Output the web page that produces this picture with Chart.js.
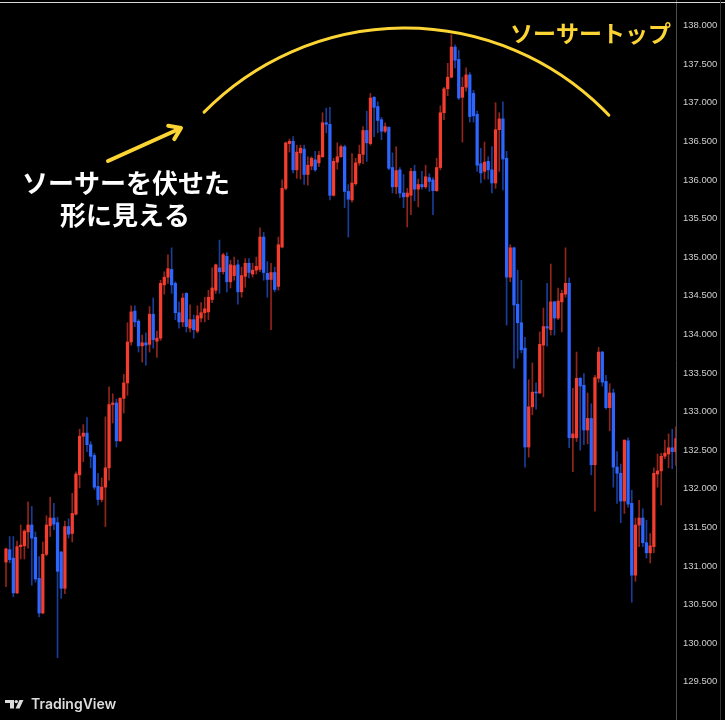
<!DOCTYPE html>
<html><head><meta charset="utf-8">
<script src="https://cdn.jsdelivr.net/npm/chart.js@4/dist/chart.umd.min.js"></script>
<style>html,body{margin:0;padding:0;background:#000;}canvas{display:block;}</style>
</head><body>
<canvas id="c" width="725" height="720"></canvas>
<script>
// ---- data ----
const opens = [131.05,131.21,131.10,130.65,131.25,131.26,131.44,131.53,131.37,130.84,130.39,131.15,131.52,131.62,131.56,131.18,130.71,131.51,131.42,131.67,132.18,132.68,132.72,132.57,132.43,132.03,131.86,132.02,132.27,133.09,133.11,132.62,133.17,133.37,133.90,134.30,134.17,133.85,133.89,133.87,134.26,133.91,133.95,134.64,134.74,134.84,134.66,134.28,134.16,134.53,134.08,134.19,134.04,134.21,134.28,134.29,134.45,134.57,134.86,134.81,135.01,134.68,134.76,134.90,134.55,134.75,134.92,134.78,134.83,134.84,135.26,134.79,134.71,134.80,134.62,135.13,135.89,136.47,136.50,136.13,136.35,136.40,136.07,136.18,136.26,136.22,136.30,136.74,136.72,135.80,136.23,136.30,136.43,135.85,135.74,135.95,136.22,136.33,136.64,136.47,137.07,136.95,136.78,136.63,136.68,136.16,135.91,136.13,135.83,135.78,135.80,136.11,135.88,135.94,135.91,136.03,136.00,135.86,136.16,136.87,137.18,137.33,137.72,137.56,137.07,137.20,137.36,137.12,136.85,136.21,136.11,136.24,136.13,135.96,136.65,136.79,136.28,134.74,135.12,134.39,134.15,133.82,132.54,133.06,133.25,133.24,133.86,134.10,134.06,134.42,134.21,134.42,134.52,134.66,132.66,132.66,133.43,133.34,132.76,132.91,132.31,133.43,133.77,133.39,133.05,133.24,132.28,132.20,131.84,132.62,131.81,130.88,131.53,131.62,131.30,131.17,131.25,132.19,132.23,132.42,132.45,132.53,132.48];
const highs = [131.23,131.38,131.38,131.32,131.53,131.47,131.83,131.77,131.44,131.12,131.31,131.65,131.89,131.81,131.63,131.19,131.58,131.61,131.94,132.22,132.77,132.83,132.92,132.61,132.46,132.20,132.14,132.93,133.32,133.23,133.16,133.18,133.48,134.15,134.37,134.37,134.19,133.99,134.02,134.36,134.47,134.04,134.70,134.81,135.03,135.12,134.68,134.42,134.53,134.54,134.38,134.25,134.37,134.41,134.48,134.57,134.86,134.91,135.22,135.05,135.06,134.96,135.00,134.96,134.87,134.98,134.98,134.92,135.00,135.38,135.32,134.94,134.92,134.87,135.26,136.00,136.49,136.53,136.56,136.45,136.45,136.45,136.30,136.30,136.37,136.37,136.87,136.93,136.94,136.28,136.48,136.45,136.45,135.94,136.34,136.28,136.45,136.69,136.89,137.12,137.08,137.01,136.81,136.74,136.69,136.35,136.43,136.16,136.07,135.89,136.15,136.19,136.01,136.11,136.19,136.08,136.03,136.28,136.96,137.20,137.51,137.88,137.75,137.68,137.33,137.45,137.39,137.16,136.89,136.41,136.49,136.30,136.43,137.00,136.87,137.01,136.37,135.16,135.13,134.83,134.70,133.96,133.41,133.63,133.37,134.03,134.34,134.66,134.91,134.43,134.60,134.57,135.12,134.73,133.30,133.77,133.44,133.49,133.24,133.10,133.47,133.83,133.78,133.47,133.36,133.29,132.48,132.32,132.63,132.66,131.98,131.62,131.85,131.74,131.59,131.42,132.27,132.45,132.46,132.63,132.71,132.77,132.80];
const lows = [130.73,131.04,130.60,130.64,131.09,131.09,131.23,130.75,130.79,130.34,130.38,131.13,131.38,131.47,129.81,130.58,130.64,131.36,131.31,131.66,132.01,132.35,132.48,132.27,131.99,131.79,131.83,131.51,132.11,132.85,132.54,132.61,132.98,133.21,133.86,134.10,133.77,133.64,133.60,133.77,133.82,133.70,133.92,134.52,134.66,134.53,134.19,134.08,134.10,134.03,134.03,133.95,134.02,134.16,134.16,134.19,134.41,134.53,134.53,134.78,134.55,134.60,134.70,134.39,134.48,134.61,134.73,134.74,134.78,134.81,134.70,134.48,134.06,134.55,134.57,135.12,135.87,136.36,136.09,136.02,136.01,135.94,135.93,136.13,136.11,136.17,136.29,136.61,135.74,135.79,136.14,136.29,135.64,135.26,135.71,135.93,136.19,136.21,136.24,136.45,136.56,136.61,136.52,136.61,136.13,135.83,135.82,135.77,135.64,135.39,135.55,135.73,135.65,135.88,135.89,135.85,135.55,135.85,136.13,136.78,137.09,137.32,137.45,137.04,136.49,137.15,136.75,136.75,136.11,135.96,136.01,136.01,135.83,135.89,136.11,135.87,134.12,134.68,133.56,133.69,133.76,132.28,132.41,132.96,133.03,133.23,133.19,133.85,133.99,133.99,134.19,134.03,134.48,132.53,132.22,132.61,132.50,132.57,132.58,132.18,131.71,133.38,133.33,133.03,132.75,132.02,131.81,131.56,131.68,131.76,130.53,130.80,131.25,131.25,131.10,131.04,131.17,132.02,131.79,132.39,132.27,132.26,132.30];
const closes = [131.22,131.08,130.65,131.25,131.27,131.45,131.53,131.36,130.83,130.39,131.15,131.53,131.62,131.54,130.93,130.71,131.51,131.41,131.68,132.19,132.68,132.72,132.57,132.42,132.02,131.86,132.02,132.27,133.09,133.11,132.62,133.17,133.37,133.90,134.29,134.16,133.85,133.89,133.86,134.26,133.93,133.95,134.66,134.74,134.85,134.64,134.28,134.16,134.47,134.10,134.19,134.06,134.24,134.28,134.33,134.48,134.60,134.90,134.81,135.03,134.68,134.90,134.89,134.55,134.76,134.92,134.80,134.83,134.88,135.26,134.80,134.71,134.80,134.58,135.16,135.89,136.48,136.50,136.13,136.36,136.41,136.07,136.19,136.28,136.13,136.32,136.74,136.72,135.80,136.24,136.30,136.43,135.85,135.75,135.96,136.22,136.33,136.64,136.48,137.06,136.94,136.77,136.63,136.69,136.15,135.91,136.12,135.83,135.78,135.83,136.11,135.88,135.94,135.91,136.04,135.98,135.86,136.16,136.87,137.18,137.33,137.72,137.55,137.06,137.20,137.36,136.82,136.83,136.19,136.09,136.23,136.13,135.96,136.65,136.79,136.27,134.74,135.12,134.38,134.15,133.80,132.54,133.06,133.25,133.24,133.87,134.10,134.08,134.42,134.21,134.43,134.53,134.66,132.66,132.71,133.43,133.33,132.76,132.91,132.31,133.44,133.77,133.38,133.05,133.24,132.28,132.20,131.84,132.63,131.80,130.88,131.53,131.62,131.30,131.17,131.26,132.20,132.23,132.42,132.46,132.53,132.48,132.65];
const yTickValues = [129.5,130.0,130.5,131.0,131.5,132.0,132.5,133.0,133.5,134.0,134.5,135.0,135.5,136.0,136.5,137.0,137.5,138.0];
const yTickLabels = ['129.500','130.000','130.500','131.000','131.500','132.000','132.500','133.000','133.500','134.000','134.500','135.000','135.500','136.000','136.500','137.000','137.500','138.000'];

// ---- styling ----
const UP = '#f23d2f', DOWN = '#2c66ff';
const UP_W = 'rgba(242,61,47,0.6)', DOWN_W = 'rgba(44,102,255,0.6)';
const YEL = '#fcd535';

const idx = opens.map((_, i) => i);
const isUp = idx.map(i => closes[i] >= opens[i]);

const overlay = {
  id: 'overlay',
  beforeDraw(chart) {
    const c = chart.ctx;
    c.save();
    c.fillStyle = '#000';
    c.fillRect(0, 0, chart.width, chart.height);
    c.restore();
  },
  afterDraw(chart) {
    const c = chart.ctx;
    c.save();
    // top thin line
    c.fillStyle = '#d8d8d8';
    c.fillRect(0, 2, chart.width, 1);
    // right edge line
    c.fillStyle = '#333';
    c.fillRect(720, 0, 1, chart.height);
    // saucer arc
    c.strokeStyle = YEL; c.lineWidth = 3; c.lineCap = 'round';
    c.beginPath();
    const cx = 405, cy = 310, r = 282;
    c.arc(cx, cy, r, Math.atan2(112 - cy, 204 - cx), Math.atan2(116 - cy, 608 - cx));
    c.stroke();
    // arrow
    c.lineWidth = 4;
    const tx = 181, ty = 128, sx = 108, sy = 161;
    c.beginPath(); c.moveTo(sx, sy); c.lineTo(tx - 2, ty + 1); c.stroke();
    const ang = Math.atan2(ty - sy, tx - sx), hl = 13;
    c.beginPath();
    c.moveTo(tx - hl * Math.cos(ang - 0.6), ty - hl * Math.sin(ang - 0.6));
    c.lineTo(tx, ty);
    c.lineTo(tx - hl * Math.cos(ang + 0.6), ty - hl * Math.sin(ang + 0.6));
    c.lineJoin = 'round';
    c.stroke();
    // texts
    c.textBaseline = 'middle';
    c.fillStyle = '#ffffff';
    c.font = '700 26px "Noto Sans CJK JP", sans-serif';
    c.textAlign = 'center';
    c.fillText('ソーサーを伏せた', 126, 183);
    c.fillText('形に見える', 125, 215);
    c.fillStyle = YEL;
    c.font = '700 23px "Noto Sans CJK JP", sans-serif';
    c.textAlign = 'right';
    c.fillText('ソーサートップ', 671, 33);
    // TradingView logo
    c.fillStyle = '#dcdcdc';
    c.fillRect(5, 700, 9, 3);
    c.fillRect(10, 700, 4, 8.5);
    c.beginPath(); c.arc(16.3, 701.6, 1.7, 0, Math.PI * 2); c.fill();
    c.beginPath();
    c.moveTo(19.5, 700); c.lineTo(23.5, 700); c.lineTo(19.5, 708.5); c.lineTo(15.5, 708.5); c.closePath(); c.fill();
    c.font = '600 14px Inter, sans-serif';
    c.textAlign = 'left'; c.textBaseline = 'alphabetic';
    c.fillText('TradingView', 31, 709);
    c.restore();
  }
};

new Chart(document.getElementById('c'), {
  type: 'bar',
  data: {
    datasets: [
      {
        label: 'body', order: 0,
        data: idx.map(i => ({ x: i, y: [opens[i], closes[i]] })),
        backgroundColor: idx.map(i => isUp[i] ? UP : DOWN),
        barThickness: 2.6, minBarLength: 1, grouped: false, borderWidth: 0
      },
      {
        label: 'wick', order: 1,
        data: idx.map(i => ({ x: i, y: [lows[i], highs[i]] })),
        backgroundColor: idx.map(i => isUp[i] ? UP_W : DOWN_W),
        barThickness: 1, grouped: false, borderWidth: 0
      }
    ]
  },
  options: {
    responsive: false,
    animation: false,
    devicePixelRatio: 1,
    layout: { padding: 0 },
    plugins: { legend: { display: false }, tooltip: { enabled: false } },
    scales: {
      x: { type: 'linear', display: false, min: -1.63, max: 182.02, offset: false },
      y: {
        position: 'right', min: 129.004, max: 138.330,
        afterBuildTicks(s) { s.ticks = yTickValues.map(v => ({ value: v })); },
        afterFit(s) { s.width = 49; s.paddingTop = 0; s.paddingBottom = 0; },
        grid: { display: false, drawTicks: false },
        border: { display: true, color: '#4d4d4d', width: 1 },
        ticks: {
          color: '#cfcfcf', padding: 7,
          font: { family: 'Liberation Sans', size: 9.5 },
          callback: (v, i) => yTickLabels[i]
        }
      }
    }
  },
  plugins: [overlay]
});
</script>
</body></html>
